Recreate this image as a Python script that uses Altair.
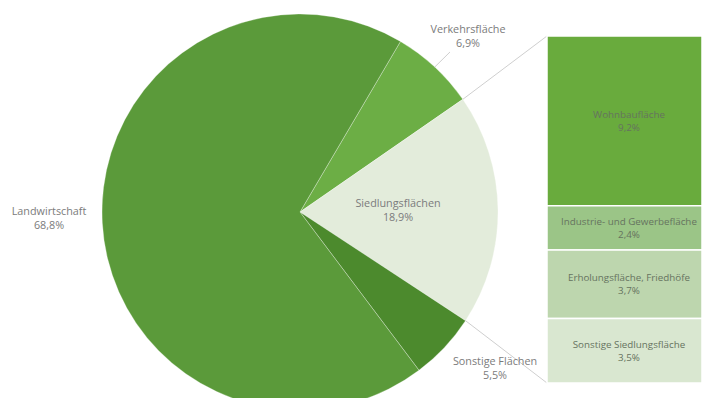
import math
import altair as alt
import pandas as pd

# ---- data ----
pie_names = ["Verkehrsfläche", "Siedlungsflächen", "Sonstige Flächen", "Landwirtschaft"]
pie_values = [6.9, 18.9, 5.5, 68.8]
pie_colors = ["#6cae45", "#e3ecdb", "#4c8a2d", "#5b9a3a"]

bar_names = ["Wohnbaufläche", "Industrie- und Gewerbefläche", "Erholungsfläche, Friedhöfe", "Sonstige Siedlungsfläche"]
bar_values = [9.2, 2.4, 3.7, 3.5]
bar_colors = ["#69ab3d", "#9bc587", "#bdd6ae", "#d9e7d0"]

pie_df = pd.DataFrame({"name": pie_names, "value": pie_values, "order": range(len(pie_names))})
bar_df = pd.DataFrame({"name": bar_names, "value": bar_values, "order": range(len(bar_names))})

# ---- layout / style ----
W, H = 694, 390
CX, CY, R = 292, 204, 198
A0 = math.radians(30.5)
TOTAL = sum(pie_values)
BAR_X0, BAR_X1 = 539, 694
BAR_Y0, BAR_Y1 = 28, 375
FONT = "Open Sans"
FS = 10.8
FS_BAR = 9.8
LABEL_GREY = "#7b7b7b"

pct_expr = "datum.name + '\\n' + replace(format(datum.value, '.1f'), '.', ',') + '%'"

pie = alt.Chart(pie_df).mark_arc(
    radius=R, x=CX, y=CY, stroke="#ffffff", strokeWidth=0.6, strokeOpacity=0.5
).encode(
    theta=alt.Theta("value:Q", stack=True,
                    scale=alt.Scale(domain=[0, TOTAL], range=[A0, A0 + 2 * math.pi])),
    color=alt.Color("name:N", scale=alt.Scale(domain=pie_names, range=pie_colors), legend=None),
    order=alt.Order("order:Q"),
)

# connector lines from Siedlungsflächen slice to the bar
cum_before = pie_values[0]
t_start = A0 + cum_before / TOTAL * 2 * math.pi
t_end = A0 + (cum_before + pie_values[1]) / TOTAL * 2 * math.pi
p1 = (CX + R * math.sin(t_start), CY - R * math.cos(t_start))
p2 = (CX + R * math.sin(t_end), CY - R * math.cos(t_end))
t_mid_v = A0 + pie_values[0] / 2 / TOTAL * 2 * math.pi
pv = (CX + R * math.sin(t_mid_v), CY - R * math.cos(t_mid_v))

line_style = dict(color="#cfcfcf", strokeWidth=1)
conn_top = alt.Chart(pie_df.head(1)).mark_rule(**line_style).encode(
    x=alt.value(p1[0]), y=alt.value(p1[1]), x2=alt.value(BAR_X0), y2=alt.value(BAR_Y0))
conn_bot = alt.Chart(pie_df.head(1)).mark_rule(**line_style).encode(
    x=alt.value(p2[0]), y=alt.value(p2[1]), x2=alt.value(BAR_X0), y2=alt.value(BAR_Y1))
leader_v = alt.Chart(pie_df.head(1)).mark_rule(**line_style).encode(
    x=alt.value(pv[0]), y=alt.value(pv[1]), x2=alt.value(442), y2=alt.value(44))

bar_y_scale = alt.Scale(domain=[0, sum(bar_values)], range=[BAR_Y0, BAR_Y1])

bars_base = alt.Chart(bar_df).transform_window(
    cum="sum(value)", sort=[alt.SortField("order")], frame=[None, 0]
).transform_calculate(
    start="datum.cum - datum.value", mid="datum.cum - datum.value / 2", label=pct_expr
)

bars = bars_base.mark_rect(stroke="#ffffff", strokeWidth=1.5).encode(
    x=alt.value(BAR_X0), x2=alt.value(BAR_X1),
    y=alt.Y("start:Q", scale=bar_y_scale, axis=None), y2="cum:Q",
    color=alt.Color("name:N", scale=alt.Scale(domain=bar_names, range=bar_colors), legend=None),
)

bar_text = bars_base.mark_text(
    font=FONT, fontSize=FS_BAR, color="#66735f", lineBreak="\n", align="center",
    baseline="middle", lineHeight=13, dy=-6
).encode(
    x=alt.value(621), y=alt.Y("mid:Q", scale=bar_y_scale, axis=None), text="label:N"
)

# pie labels (positions are style; y is the first line)
label_pos = {
    "Landwirtschaft": (41, 204),
    "Verkehrsfläche": (460, 22),
    "Siedlungsflächen": (390, 196),
    "Sonstige Flächen": (487, 354),
}
pie_texts = []
for nm, (lx, ly) in label_pos.items():
    pie_texts.append(
        alt.Chart(pie_df).transform_filter(alt.datum.name == nm)
        .transform_calculate(label=pct_expr)
        .mark_text(font=FONT, fontSize=FS, color=LABEL_GREY, lineBreak="\n",
                   align="center", baseline="middle", lineHeight=14)
        .encode(x=alt.value(lx), y=alt.value(ly), text="label:N")
    )

chart = alt.layer(pie, conn_top, conn_bot, leader_v, bars, bar_text, *pie_texts).properties(
    width=W, height=H, autosize=alt.AutoSizeParams(type="none"), padding=0,
    background="#ffffff",
).configure_view(stroke=None).resolve_scale(color="independent")

chart.save("out.html", embed_options={"renderer": "svg", "actions": False})
